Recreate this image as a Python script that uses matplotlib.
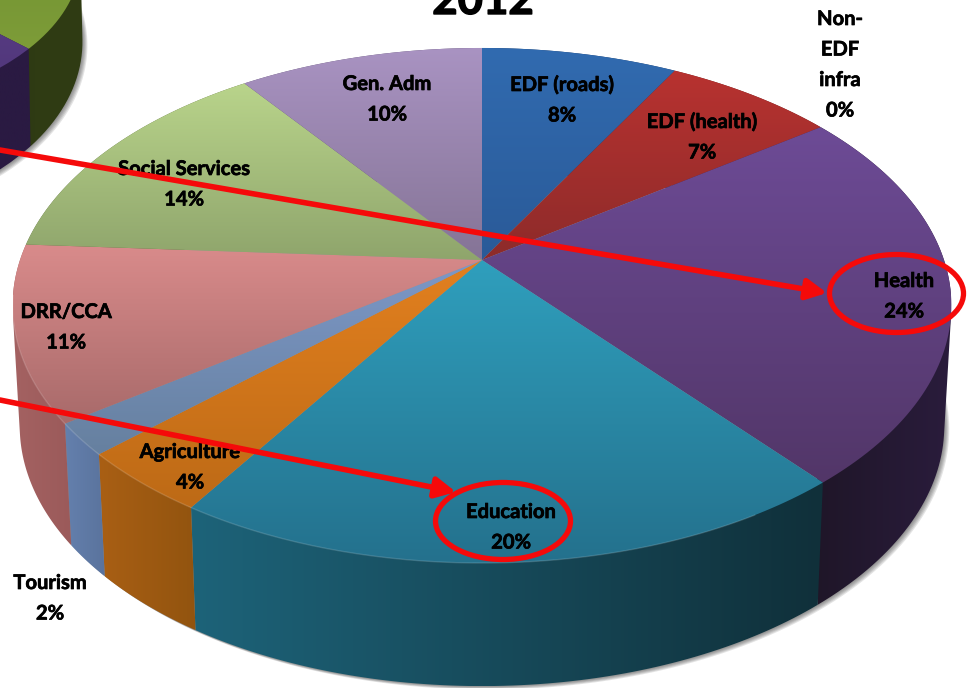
import numpy as np
import matplotlib
matplotlib.use('Agg')
import matplotlib.pyplot as plt
import matplotlib.patheffects as pe
from matplotlib.colors import to_rgb
from matplotlib.patches import Ellipse, Polygon

plt.rcParams['font.family'] = ['Lato', 'DejaVu Sans']

categories = ['EDF (roads)', 'EDF (health)', 'Non-\nEDF\ninfra', 'Health', 'Education',
              'Agriculture', 'Tourism', 'DRR/CCA', 'Social Services', 'Gen. Adm']
values = [8, 7, 0, 24, 20, 4, 2, 11, 14, 10]

top_colors = [('#316bb0', '#2a5a98'), ('#b83230', '#8d2b2a'), ('#6d4b96', '#6d4b96'),
              ('#6d4b96', '#523668'), ('#2f9fbd', '#24718d'), ('#e2801f', '#bd6a16'),
              ('#7d98c8', '#66809f'), ('#d98b8b', '#a86a6a'), ('#b9d48b', '#8fa56c'),
              ('#a993c2', '#857496')]
side_colors = [('#1c3c68', '#1c3c68'), ('#6a1e1e', '#6a1e1e'), ('#2a1c3c', '#2a1c3c'),
               ('#1f1628', '#2a1c3c'), ('#1d6379', '#10303a'), ('#a95f14', '#92540f'),
               ('#6480ad', '#5a739d'), ('#a46262', '#9b5a5a'), ('#5c6c40', '#5c6c40'),
               ('#5e5070', '#5e5070')]

label_x = [562, 702, 840, 904, 511, 190, 50, 66, 184, 387]
label_y = [85, 122, 19, 281, 512, 452, 583, 312, 169, 84]

# the other pie cut off in the corner, only two slices are visible
small_values = [37, 63]
small_top = [('#66882c', '#7d9c38'), ('#6a4a98', '#4e3578')]
small_side = [('#2a3610', '#303c14'), ('#2a1a42', '#2a1a42')]

fig = plt.figure(figsize=(9.7, 6.88), dpi=100)
ax = fig.add_axes([0, 0, 1, 1])
ax.axis('off')

TILT = 0.1767


def rim(theta, cx, cy, a, b):
    u = np.sin(theta)
    v = np.cos(theta)
    w = 1 + TILT * v
    return np.column_stack([cx + a * u / w, cy - b * v / w])


def hull(pts):
    # monotone chain, closes the gap between the two rims at the silhouette
    pts = sorted(map(tuple, pts))

    def half(seq):
        out = []
        for p in seq:
            while len(out) > 1 and ((out[-1][0] - out[-2][0]) * (p[1] - out[-2][1])
                                    - (out[-1][1] - out[-2][1]) * (p[0] - out[-2][0])) <= 0:
                out.pop()
            out.append(p)
        return out[:-1]

    return np.array(half(pts) + half(pts[::-1]))


def grad_fill(pts, c1, c2, vertical=True, zorder=2):
    poly = Polygon(pts, closed=True, transform=ax.transData, fc='none', ec='none')
    ax.add_patch(poly)
    c1 = np.array(to_rgb(c1))
    c2 = np.array(to_rgb(c2))
    t = np.linspace(0, 1, 128)[:, None]
    arr = c1 * (1 - t) + c2 * t
    arr = arr[:, None, :] if vertical else arr[None, :, :]
    x0, y0 = pts.min(axis=0)
    x1, y1 = pts.max(axis=0)
    im = ax.imshow(arr, extent=(x0, x1, y1, y0), aspect='auto', origin='upper',
                   interpolation='bilinear', zorder=zorder)
    im.set_clip_path(poly)


def draw_pie(vals, tops, sides, top_geom, bottom_geom, z=2):
    edges = np.cumsum([0] + list(vals)) / sum(vals) * 2 * np.pi
    # sides first, back to front does not matter because the top covers them
    for i, val in enumerate(vals):
        if val == 0:
            continue
        th = np.linspace(edges[i], edges[i + 1], 80)
        pts = hull(np.vstack([rim(th, *top_geom), rim(th, *bottom_geom)]))
        grad_fill(pts, sides[i][0], sides[i][1], vertical=False, zorder=z)
    for i, val in enumerate(vals):
        if val == 0:
            continue
        th = np.linspace(edges[i], edges[i + 1], 80)
        pts = np.vstack([[top_geom[0], top_geom[1]], rim(th, *top_geom)])
        grad_fill(pts, tops[i][0], tops[i][1], zorder=z + 1)


main_top = (482, 260, 462, 249.5)
main_bottom = (482, 380, 455, 252)
small_top_geom = (-201, -68, 277, 150)
small_bottom_geom = (-200, 10, 278, 175)

# soft shadow under both pies
th_all = np.linspace(0, 2 * np.pi, 300)
for off in [5, 4, 3, 2, 1]:
    for geom in (main_bottom, small_bottom_geom):
        ax.add_patch(Polygon(rim(th_all, *geom) + [off, off * 0.7], closed=True,
                             fc='#303030', ec='none', alpha=0.13, zorder=1))

draw_pie(small_values, small_top, small_side, small_top_geom, small_bottom_geom)
draw_pie(values, top_colors, side_colors, main_top, main_bottom)

# light line along the front rim
th_front = np.linspace(np.deg2rad(150), np.deg2rad(262), 200)
front = rim(th_front, *main_top)
ax.plot(front[:, 0], front[:, 1], color='white', alpha=0.15, lw=1, zorder=4)

bold = [pe.withStroke(linewidth=0.5, foreground='black')]
for cat, val, x, y in zip(categories, values, label_x, label_y):
    lines = f'{cat}\n{val}%'.split('\n')
    for i, line in enumerate(lines):
        ax.text(x, y + i * 30.5, line, ha='center', va='center', fontsize=14.5,
                fontweight='bold', color='black', zorder=6, path_effects=bold)

ax.text(483, 14, '2012', ha='center', va='baseline', fontsize=31.5, fontweight='bold',
        color='black', zorder=6, path_effects=[pe.withStroke(linewidth=1, foreground='black')])

# red call-outs
for start, end in [((0, 150), (827, 293)), ((0, 400), (456, 492))]:
    ax.annotate('', xy=end, xytext=start, zorder=7,
                arrowprops=dict(arrowstyle='-|>,head_length=0.55,head_width=0.28',
                                color='#f50a0a', lw=4, shrinkA=0, shrinkB=0,
                                mutation_scale=22))
for center, w, h in [((896.5, 293.5), 134, 78), ((503, 521), 135, 77)]:
    ax.add_patch(Ellipse(center, w, h, fc='none', ec='#f50a0a', lw=3.8, zorder=7))

ax.set_xlim(0, 970)
ax.set_ylim(688, 0)
fig.savefig('out.png', dpi=100, facecolor='white')
